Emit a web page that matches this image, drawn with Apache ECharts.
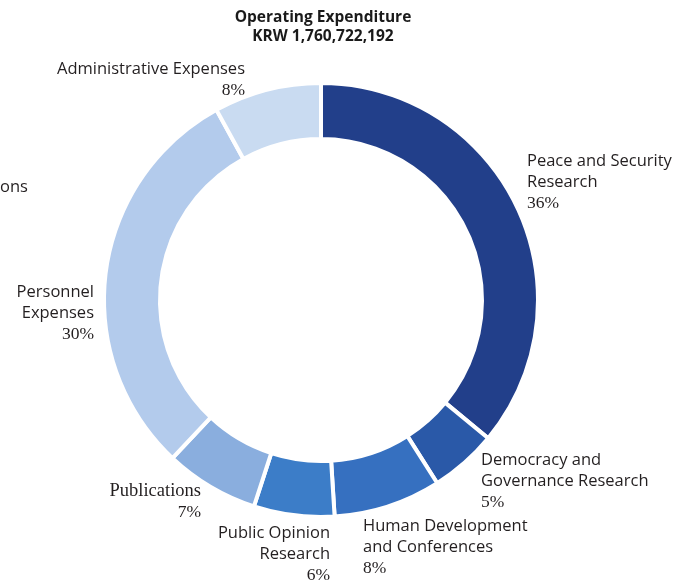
<!DOCTYPE html>
<html>
<head>
<meta charset="utf-8">
<script src="https://cdn.jsdelivr.net/npm/echarts@6/dist/echarts.min.js"></script>
<style>
html,body{margin:0;padding:0;background:#fff;}
#chart{width:693px;height:586px;}
</style>
</head>
<body>
<div id="chart"></div>
<script>
const titleLines = ['Operating Expenditure', 'KRW 1,760,722,192'];
const categories = ['Peace and Security Research','Democracy and Governance Research','Human Development and Conferences','Public Opinion Research','Publications','Personnel Expenses','Administrative Expenses'];
const labelLines = [['Peace and Security','Research'],['Democracy and','Governance Research'],['Human Development','and Conferences'],['Public Opinion','Research'],['Publications'],['Personnel','Expenses'],['Administrative Expenses']];
const values = [36, 5, 8, 6, 7, 30, 8];
const colors = ['#223f8a','#2a59a8','#3670c0','#3c7dc8','#8aaede','#b3cbec','#c9dbf1'];
const serifNames = [false,false,false,false,true,false,false];

const labelPos = [
  {x:527, y:151, align:'left'},
  {x:481, y:450, align:'left'},
  {x:363, y:516, align:'left'},
  {x:330, y:523, align:'right'},
  {x:201, y:481, align:'right'},
  {x:94,  y:282, align:'right'},
  {x:245, y:59,  align:'right'}
];

const SANS = '"Open Sans", "Noto Sans", sans-serif';
const SERIF = '"Liberation Serif", "DejaVu Serif", serif';

const chart = echarts.init(document.getElementById('chart'));
chart.setOption({
  animation: false,
  backgroundColor: '#fff',
  graphic: [{
    type: 'text', x: 323, y: 8,
    style: {text: titleLines.join('\n'), fontFamily: SANS, fontWeight: 'bold', fontSize: 15.5, fill: '#1a1a1a', lineHeight: 19, align: 'center', verticalAlign: 'top'}
  }, {
    type: 'text', x: 0, y: 179,
    style: {text: 'ons', fontFamily: SANS, fontSize: 16.5, fill: '#231f20'}
  }],
  series: [{
    type: 'pie',
    center: [321, 300],
    radius: [161, 217],
    startAngle: 90,
    clockwise: true,
    itemStyle: {borderColor: '#fff', borderWidth: 4},
    labelLine: {show: false},
    emphasis: {disabled: true},
    data: categories.map((c, i) => ({
      name: c, value: values[i],
      itemStyle: {color: colors[i]},
      label: {align: labelPos[i].align}
    })),
    label: {
      show: true,
      position: 'outside',
      overflow: 'none',
      formatter: p => {
        const i = p.dataIndex;
        const st = serifNames[i] ? 's' : 'n';
        return labelLines[i].map(l => '{' + st + '|' + l + '}').join('\n') + '\n{p|' + values[i] + '%}';
      },
      rich: {
        n: {fontFamily: SANS, fontSize: 16.5, color: '#231f20', lineHeight: 21},
        s: {fontFamily: SERIF, fontSize: 18.5, color: '#231f20', lineHeight: 21},
        p: {fontFamily: SERIF, fontSize: 17.5, color: '#231f20', lineHeight: 21}
      }
    },
    labelLayout: params => {
      const p = labelPos[params.dataIndex];
      return {x: p.x, y: p.y, align: p.align, verticalAlign: 'top', moveOverlap: false, hideOverlap: false};
    }
  }]
});
</script>
</body>
</html>
